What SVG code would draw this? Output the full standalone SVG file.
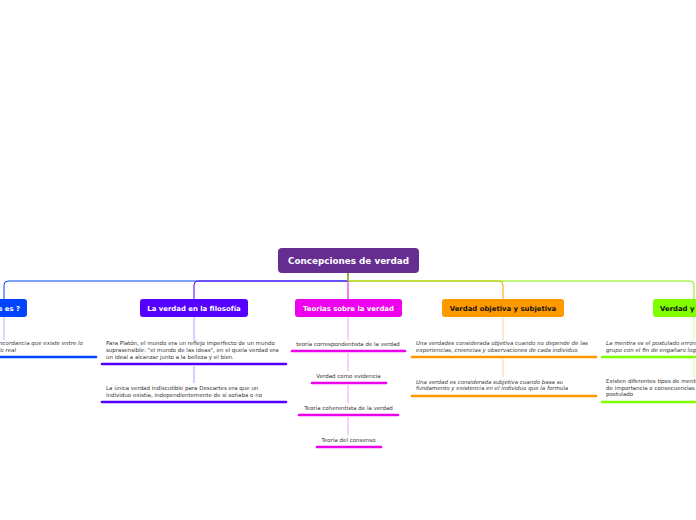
<svg xmlns="http://www.w3.org/2000/svg" width="696" height="520" viewBox="0 0 696 520">
<style>
.t{font-family:"DejaVu Sans",Verdana,sans-serif;}
.n1{font-size:6.9px;font-weight:bold;fill:#fff;text-anchor:middle;}
.n1d{font-size:6.9px;font-weight:bold;fill:#111;text-anchor:middle;}
.c{font-size:5.5px;fill:#333;}
.ci{font-size:5.5px;fill:#333;font-style:italic;}
.cm{font-size:5.5px;fill:#333;text-anchor:middle;}
.ul{fill:none;stroke-width:2.6;stroke-linecap:round;}
.br{fill:none;stroke-width:1;}
.st{fill:none;stroke-width:1;}
</style>
<rect width="696" height="520" fill="#fff"/>
<g id="connectors">
<path class="br" stroke="#0044ff" d="M348,273 V281 H8 Q4,281 4,285 V299"/>
<path class="br" stroke="#5500ff" d="M348,273 V281 H198 Q194,281 194,285 V299"/>
<path class="br" stroke="#ff9900" d="M348,273 V281 H499 Q503,281 503,285 V299"/>
<path class="br" stroke="#80ee00" d="M348,273 V281 H690 Q694,281 694,285 V299"/>
<path class="br" stroke="#ee00ee" d="M348,281 V299"/>
<path class="st" stroke="#aabbff" d="M4,317 V340"/>
<path class="st" stroke="#bb99ff" d="M194,317 V340 M194,366 V383"/>
<path class="st" stroke="#f6a0f6" d="M348,317 V340 M348,353 V371 M348,385 V403 M348,417 V435"/>
<path class="st" stroke="#ffd3a0" d="M503,317 V340 M503,359 V377"/>
<path class="st" stroke="#d0ff9a" d="M694,317 V340 M694,359 V377"/>
</g>
<g id="root">
<rect x="278" y="248" width="141" height="25" rx="4" fill="#662d91"/>
<text class="t" x="348.5" y="264" font-size="8.8" font-weight="bold" fill="#fff" text-anchor="middle">Concepciones de verdad</text>
</g>
<g id="n-que">
<rect x="-40" y="299" width="67" height="18" rx="3" fill="#0044ff"/>
<text class="t n1" x="20" y="310.5" style="text-anchor:end">¿Que es ?</text>
</g>
<g id="n-filosofia">
<rect x="140" y="299" width="108" height="18" rx="3" fill="#5500ff"/>
<text class="t n1" x="194" y="310.5">La verdad en la filosofía</text>
</g>
<g id="n-teorias">
<rect x="295" y="299" width="107" height="18" rx="3" fill="#ee00ee"/>
<text class="t n1" x="348.5" y="310.5">Teorias sobre la verdad</text>
</g>
<g id="n-objetiva">
<rect x="442" y="299" width="122" height="18" rx="3" fill="#ff9900"/>
<text class="t n1d" x="503" y="310.5">Verdad objetiva y subjetiva</text>
</g>
<g id="n-mentira">
<rect x="653" y="299" width="90" height="18" rx="3" fill="#80ff00"/>
<text class="t n1d" x="660" y="310.5" style="text-anchor:start">Verdad y mentira</text>
</g>
<g id="c-que">
<text class="t ci" x="83" y="345" style="text-anchor:end">Es la concordancia que existe entre lo</text>
<text class="t ci" x="16" y="351.5" style="text-anchor:end">pensado y lo real</text>
<path class="ul" stroke="#0044ff" d="M-10,357 H96"/>
</g>
<g id="c-platon">
<text class="t c" x="106" y="345">Para Platón, el mundo era un reflejo imperfecto de un mundo</text>
<text class="t c" x="106" y="352">suprasensible: "el mundo de las ideas", en el quela verdad era</text>
<text class="t c" x="106" y="359">un ideal a alcanzar junto a la belleza y el bien.</text>
<path class="ul" stroke="#5500ff" d="M102,364 H286"/>
</g>
<g id="c-descartes">
<text class="t c" x="106" y="390">La única verdad indiscutible para Descartes era que un</text>
<text class="t c" x="106" y="396.5">individuo existía, independientemente de si soñaba o no</text>
<path class="ul" stroke="#5500ff" d="M102,402 H286"/>
</g>
<g id="c-t1">
<text class="t cm" x="348" y="345.5">teoría correspondentista de la verdad</text>
<path class="ul" stroke="#ee00ee" d="M292,351 H405"/>
</g>
<g id="c-t2">
<text class="t cm" x="348.5" y="377.5">Verdad como evidencia</text>
<path class="ul" stroke="#ee00ee" d="M312,383 H386"/>
</g>
<g id="c-t3">
<text class="t cm" x="348.5" y="409.5">Teoría coherentista de la verdad</text>
<path class="ul" stroke="#ee00ee" d="M299,415 H398"/>
</g>
<g id="c-t4">
<text class="t cm" x="348.5" y="441.5">Teoría del consenso</text>
<path class="ul" stroke="#ee00ee" d="M317,447 H381"/>
</g>
<g id="c-objetiva">
<text class="t ci" x="416" y="345">Una verdades considerada objetiva cuando no depende de las</text>
<text class="t ci" x="416" y="351.5">experiencias, creencias y observaciones de cada individuo</text>
<path class="ul" stroke="#ff9900" d="M412,357 H596"/>
</g>
<g id="c-subjetiva">
<text class="t ci" x="416" y="383.5">Una verdad es considerada subjetiva cuando basa su</text>
<text class="t ci" x="416" y="390">fundamento y existencia en el individuo que la formula</text>
<path class="ul" stroke="#ff9900" d="M412,396 H596"/>
</g>
<g id="c-mentira1">
<text class="t ci" x="606" y="345">La mentira es el postulado erróneo de un</text>
<text class="t ci" x="606" y="351.5">grupo con el fin de engañaro lograr algo</text>
<path class="ul" stroke="#80ff00" d="M602,357 H706"/>
</g>
<g id="c-mentira2">
<text class="t c" x="606" y="383">Existen diferentes tipos de mentiras</text>
<text class="t c" x="606" y="389.5">de importancia o consecuencias del</text>
<text class="t c" x="606" y="396">postulado</text>
<path class="ul" stroke="#80ff00" d="M602,402 H706"/>
</g>
</svg>
